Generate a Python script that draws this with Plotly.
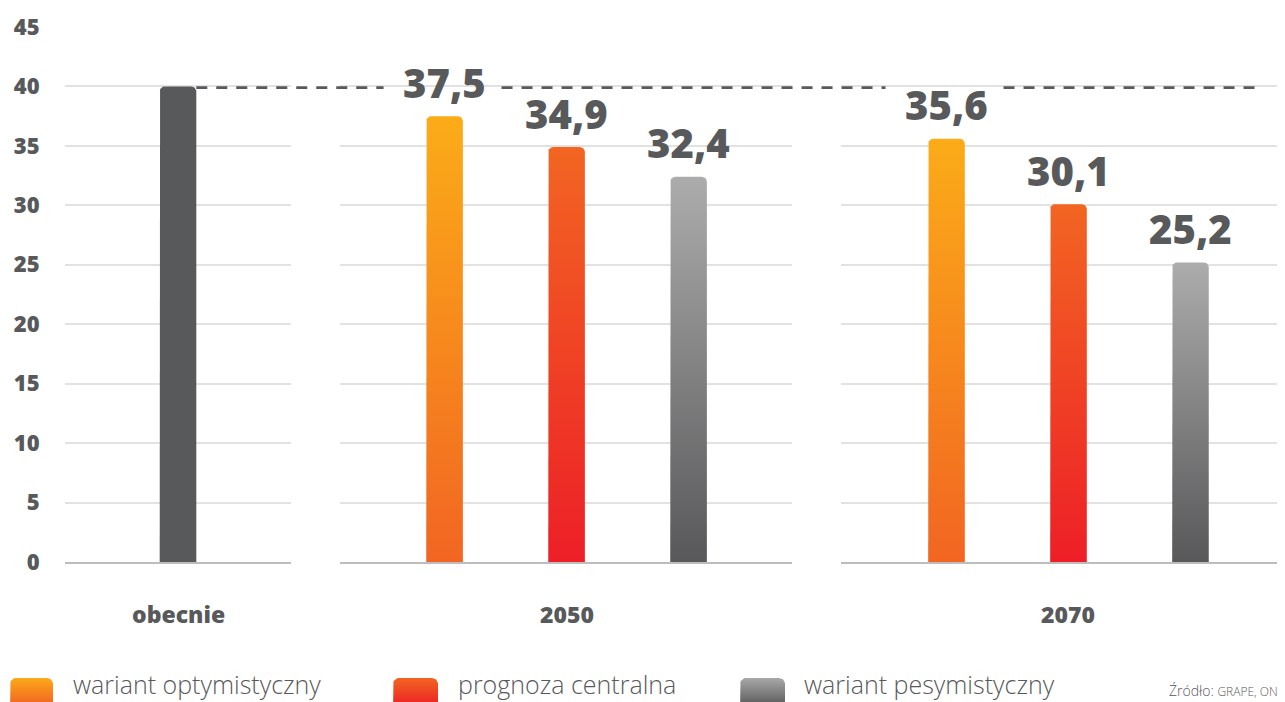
import math
import plotly.graph_objects as go

# ---------------- data ----------------
categories = ["obecnie", "2050", "2070"]
series_names = ["wariant optymistyczny", "prognoza centralna", "wariant pesymistyczny"]
current_value = [40.0]
optimistic = [37.5, 35.6]
central = [34.9, 30.1]
pessimistic = [32.4, 25.2]
y_ticks = [0, 5, 10, 15, 20, 25, 30, 35, 40, 45]
source_text = "Źródło: <span style='font-size:12px'>GRAPE, ON</span>"

# ---------------- style ----------------
PAGE_W, PAGE_H = 1285, 702
OFF = 8                      # default page body margin
W, H = PAGE_W - OFF, PAGE_H - OFF
TXT = "#58595B"
GRID = "#E2E2E2"
BOLD_FONT = "Open Sans"
LIGHT_FONT = "Open Sans"

series_gradients = [
    [[0, "#F26522"], [1, "#FBAC18"]],   # optimistic: bottom -> top
    [[0, "#ED1F27"], [1, "#F26522"]],   # central
    [[0, "#58585A"], [1, "#ACACAC"]],   # pessimistic
]
legend_gradients = [
    [[0, "#F36B21"], [1, "#FBA919"]],
    [[0, "#ED2A24"], [1, "#F26522"]],
    [[0, "#646464"], [1, "#A8A8A8"]],
]
current_color = "#58595B"


def px_x(px):   # screen pixel -> paper x
    return (px - OFF) / W


def px_y(py):   # screen pixel -> paper y
    return (PAGE_H - py) / H


PX_PER_UNIT = 122.0
panel_px = [(65, 291), (340, 792), (841, 1285)]
panel_ranges = [(-0.926, 0.926), (-0.857, 2.848), (-0.865, 2.775)]
y_px = (27, 562)  # top (45), bottom (0)
y_dom = [px_y(y_px[1]), px_y(y_px[0])]
BAR_W = 0.30
Y_PX_PER_UNIT = (y_px[1] - y_px[0]) / 45.0
RAD_PX = 5


def rounded_bar(xc, w, top, rx, ry, bottom=0, n=8):
    x0, x1 = xc - w / 2, xc + w / 2
    xs, ys = [x0], [bottom]
    for k in range(n + 1):
        a = math.pi - (math.pi / 2) * k / n
        xs.append(x0 + rx + rx * math.cos(a))
        ys.append(top - ry + ry * math.sin(a))
    for k in range(n + 1):
        a = math.pi / 2 - (math.pi / 2) * k / n
        xs.append(x1 - rx + rx * math.cos(a))
        ys.append(top - ry + ry * math.sin(a))
    xs += [x1, x0]
    ys += [bottom, bottom]
    return xs, ys


fig = go.Figure()
rx = RAD_PX / PX_PER_UNIT
ry = RAD_PX / Y_PX_PER_UNIT

# current bar (panel 1)
xs, ys = rounded_bar(0, BAR_W, current_value[0], rx, ry)
fig.add_trace(go.Scatter(x=xs, y=ys, xaxis="x", yaxis="y", mode="lines", fill="toself",
                         fillcolor=current_color, line=dict(width=0), hoverinfo="skip",
                         showlegend=False))

all_series = [optimistic, central, pessimistic]
label_specs = []
for p in range(2):
    ax = "x%d" % (p + 2)
    ay = "y%d" % (p + 2)
    for s, vals in enumerate(all_series):
        v = vals[p]
        xs, ys = rounded_bar(s, BAR_W, v, rx, ry)
        fig.add_trace(go.Scatter(
            x=xs, y=ys, xaxis=ax, yaxis=ay, mode="lines", fill="toself",
            fillgradient=dict(type="vertical", colorscale=series_gradients[s], start=0, stop=v),
            line=dict(width=0), hoverinfo="skip", showlegend=False, name=series_names[s]))
        label_specs.append((ax, ay, s, v))

annotations = []
for ax, ay, s, v in label_specs:
    annotations.append(dict(
        x=s, y=v, xref=ax, yref=ay, text=f"{v:.1f}".replace(".", ","),
        showarrow=False, yanchor="middle", yshift=34,
        font=dict(family=BOLD_FONT, size=40, color=TXT, weight=800)))

# category labels
cat_x = [0, 1, 1]
for i, c in enumerate(categories):
    annotations.append(dict(
        x=cat_x[i], y=px_y(614), xref="x%s" % ("" if i == 0 else i + 1), yref="paper",
        text=c, showarrow=False, yanchor="middle",
        font=dict(family=BOLD_FONT, size=23, color=TXT, weight=800)))

# dashed reference line at current value, with gaps around high labels
dash_start = panel_px[0][0] + (0 + BAR_W / 2 - panel_ranges[0][0]) * PX_PER_UNIT
dash_end = 1262
gaps = []
for p in range(2):
    v = optimistic[p]
    if v + 4.5 >= current_value[0]:
        cx = panel_px[p + 1][0] + (0 - panel_ranges[p + 1][0]) * PX_PER_UNIT
        gaps.append((cx - 61, cx + 57))
segments = []
cur = dash_start
for g0, g1 in gaps:
    segments.append((cur, g0))
    cur = g1
segments.append((cur, dash_end))
shapes = []
for a, b in segments:
    shapes.append(dict(type="line", xref="paper", yref="y", x0=px_x(a), x1=px_x(b),
                       y0=current_value[0] - 0.1, y1=current_value[0] - 0.1,
                       line=dict(color=TXT, width=2.6, dash="11px,9px"), layer="above"))

# legend (drawn in a pixel-space overlay axis)
legend_px = [(10, 53, 73), (393, 438, 458), (740, 785, 804)]
sw_top = 678
for s, name in enumerate(series_names):
    x0, x1, tx = legend_px[s]
    top = PAGE_H - sw_top
    lx, ly = rounded_bar((x0 + x1) / 2 - OFF, x1 - x0, top, 6, 6, bottom=-10)
    fig.add_trace(go.Scatter(
        x=lx, y=ly, xaxis="x4", yaxis="y4", mode="lines", fill="toself",
        fillgradient=dict(type="vertical", colorscale=legend_gradients[s], start=0, stop=top),
        line=dict(width=0), hoverinfo="skip", showlegend=False))
    annotations.append(dict(x=px_x(tx - 2), y=px_y(684), xref="paper", yref="paper", text=name,
                            showarrow=False, xanchor="left", yanchor="middle",
                            font=dict(family=LIGHT_FONT, size=25, color=TXT, weight=300)))

annotations.append(dict(x=px_x(1280), y=px_y(690), xref="paper", yref="paper", text=source_text,
                        showarrow=False, xanchor="right", yanchor="middle",
                        font=dict(family=LIGHT_FONT, size=14, color=TXT, weight=300)))

layout = dict(
    template="none",
    width=W, height=H, margin=dict(l=0, r=0, t=0, b=0, pad=0),
    paper_bgcolor="white", plot_bgcolor="rgba(0,0,0,0)",
    showlegend=False, annotations=annotations, shapes=shapes,
    xaxis4=dict(domain=[0, 1], range=[0, W], visible=False, fixedrange=True, anchor="y4",
                automargin=False),
    yaxis4=dict(domain=[0, 1], range=[0, H], visible=False, fixedrange=True, anchor="x4",
                automargin=False),
)
for i in range(3):
    sx = "" if i == 0 else str(i + 1)
    layout["xaxis" + sx] = dict(
        domain=[px_x(panel_px[i][0]), min(1.0, px_x(panel_px[i][1]))], range=list(panel_ranges[i]),
        anchor="y" + sx, showgrid=False, zeroline=False, showticklabels=False, ticks="",
        showline=True, linecolor="#BDBDBD", linewidth=2, fixedrange=True, automargin=False)
    layout["yaxis" + sx] = dict(
        domain=y_dom, range=[0, 45], anchor="x" + sx, tickvals=y_ticks,
        showticklabels=(i == 0), showgrid=True, gridcolor=GRID, gridwidth=2,
        zeroline=False, showline=False, ticks="outside" if i == 0 else "", ticklen=20,
        tickcolor="rgba(0,0,0,0)", fixedrange=True, automargin=False,
        tickfont=dict(family=BOLD_FONT, size=22, color=TXT, weight=800))

fig.update_layout(**layout)
fig.write_html("out.html")
